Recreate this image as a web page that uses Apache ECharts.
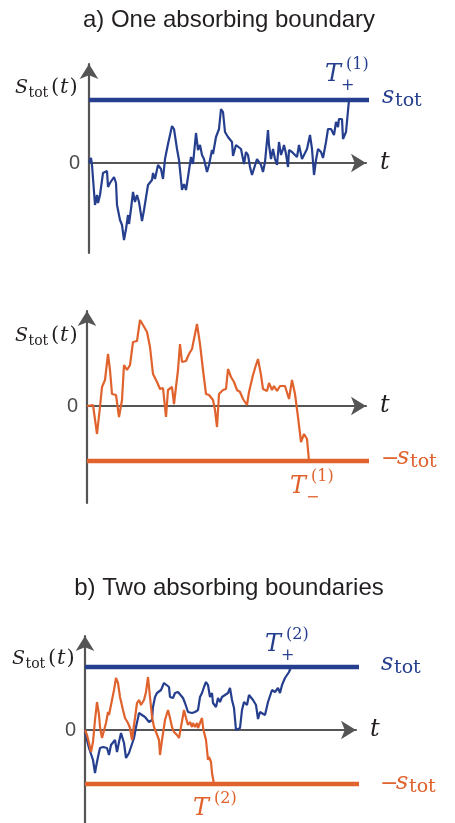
<!DOCTYPE html>
<html>
<head>
<meta charset="utf-8">
<title>absorbing boundaries</title>
<script src="https://cdn.jsdelivr.net/npm/echarts@6.0.0/dist/echarts.min.js"></script>
<style>
html,body{margin:0;padding:0;background:#fff;}
#main{width:455px;height:823px;}
</style>
</head>
<body>
<div id="main"></div>
<script>
// a) one absorbing boundary, upper one (t, S_tot)
var walkA = [[0,0],[0.2,0.5],[0.3,-0.2],[0.6,-4.2],[0.8,-3.2],[0.9,-4.0],[1.1,-3.2],[1.4,-1.0],[1.8,-0.8],[1.9,-2.4],[2.1,-2.0],[2.3,-2.2],[2.5,-1.4],[2.7,-2.0],[2.8,-4.2],[3.1,-5.7],[3.3,-6.2],[3.5,-7.7],[3.7,-6.6],[3.9,-5.2],[4.0,-6.1],[4.2,-4.6],[4.4,-2.9],[4.6,-3.9],[4.8,-3.2],[5.0,-3.9],[5.3,-5.8],[5.5,-4.7],[5.9,-2.2],[6.3,-1.7],[6.4,-1.0],[6.6,-1.6],[6.9,-0.2],[7.2,-0.6],[7.4,-1.6],[7.6,0.4],[7.9,1.9],[8.1,2.1],[8.3,3.7],[8.5,3.4],[8.8,1.4],[9.0,0.3],[9.3,-2.7],[9.5,-2.1],[9.7,-2.7],[9.9,-1.4],[10.2,0.6],[10.4,-0.1],[10.7,3.0],[10.9,1.3],[11.1,1.8],[11.3,0.8],[11.5,0.4],[11.8,-0.9],[12.0,-0.2],[12.3,1.3],[12.4,0.9],[12.7,2.6],[13.0,3.4],[13.2,5.4],[13.4,5.1],[13.6,3.1],[13.9,2.6],[14.1,2.8],[14.3,2.1],[14.4,0.7],[14.7,1.8],[14.9,1.6],[15.2,1.4],[15.3,1.6],[15.5,-0.1],[15.7,1.1],[15.9,0.8],[16.1,-0.4],[16.3,-1.2],[16.5,-1.1],[16.8,0.4],[17.0,0.1],[17.2,-0.2],[17.4,-0.9],[17.6,0.1],[17.9,3.3],[18.0,1.8],[18.2,0.4],[18.4,1.4],[18.6,0.4],[18.8,-0.2],[19.0,2.1],[19.2,0.8],[19.4,1.4],[19.5,1.8],[19.7,0.9],[19.9,-0.4],[20.0,1.3],[20.3,1.1],[20.5,1.3],[20.8,0.6],[21.0,1.8],[21.3,0.4],[21.5,0.6],[21.8,1.4],[22.1,2.8],[22.3,1.4],[22.5,-1.2],[22.7,0.3],[22.9,1.4],[23.2,1.1],[23.4,0.5],[23.7,2.1],[23.9,3.4],[24.2,3.4],[24.5,2.8],[24.7,4.1],[24.9,3.6],[25.0,4.4],[25.3,4.4],[25.4,2.4],[25.7,3.1],[25.9,3.1],[26.0,6.3]];
// a) lower one
var walkA2 = [[0,0],[0.6,0.1],[1.0,-2.8],[1.3,-0.1],[1.5,1.9],[1.8,2.6],[2.1,5.2],[2.3,3.6],[2.5,1.2],[2.9,1.1],[3.2,-1.1],[3.5,0.6],[3.7,4.1],[4.0,3.6],[4.3,4.1],[4.6,6.4],[5.0,6.5],[5.3,8.6],[5.6,8.1],[6.0,7.4],[6.3,5.9],[6.6,3.2],[7.0,2.4],[7.3,1.7],[7.6,1.8],[7.9,-1.1],[8.1,1.6],[8.5,1.9],[8.7,0.2],[9.1,3.6],[9.3,6.2],[9.5,4.4],[9.9,4.5],[10.2,5.2],[10.5,5.7],[10.7,5.9],[11.0,8.2],[11.3,6.2],[11.6,3.6],[11.9,1.2],[12.2,1.1],[12.6,0.6],[12.8,-0.4],[13.0,-2.1],[13.2,1.2],[13.6,1.6],[13.9,1.7],[14.1,3.7],[14.4,2.9],[14.7,2.4],[15.0,1.6],[15.3,1.4],[15.6,0.7],[16.0,0.1],[16.2,1.4],[16.6,3.1],[16.9,4.1],[17.1,4.7],[17.4,3.1],[17.6,1.7],[18.0,1.5],[18.2,2.3],[18.5,1.6],[18.7,2.0],[19.0,1.5],[19.3,2.0],[19.8,2.0],[20.0,2.0],[20.2,0.7],[20.5,2.6],[20.8,1.2],[21.1,-1.1],[21.4,-3.6],[21.7,-2.8],[22.0,-3.3],[22.2,-5.5]];
// b) two boundaries, blue one
var walkB1 = [[0,0],[0.2,-1.0],[0.4,-1.8],[0.6,-1.9],[0.8,-3.0],[1.0,-4.3],[1.1,-3.7],[1.3,-2.7],[1.5,-1.8],[1.8,-1.7],[2.0,-1.5],[2.2,-1.8],[2.4,-2.5],[2.6,-1.5],[2.8,-1.7],[3.0,-1.0],[3.2,-2.2],[3.4,-1.2],[3.6,-0.3],[3.9,-1.3],[4.1,-2.8],[4.4,-2.3],[4.6,-1.7],[4.9,-0.8],[5.1,0.3],[5.3,1.2],[5.4,1.7],[5.7,1.5],[6.0,1.3],[6.2,1.2],[6.4,0.8],[6.7,1.0],[6.8,2.3],[7.0,3.3],[7.2,3.7],[7.4,3.5],[7.6,4.0],[7.9,4.7],[8.1,4.9],[8.4,4.3],[8.5,3.3],[8.8,3.2],[9.0,3.7],[9.3,3.8],[9.5,3.7],[9.8,3.2],[10.0,2.7],[10.3,1.8],[10.7,1.7],[11.0,1.8],[11.3,2.0],[11.5,3.3],[11.7,3.7],[11.9,4.3],[12.1,4.8],[12.3,4.5],[12.5,3.3],[12.7,3.7],[12.8,2.7],[13.1,2.3],[13.3,3.2],[13.5,2.8],[13.7,3.3],[14.0,3.5],[14.3,3.7],[14.5,4.2],[14.7,3.0],[14.9,2.2],[15.1,0.0],[15.3,-0.1],[15.5,0.2],[15.7,2.0],[15.9,2.8],[16.2,2.5],[16.4,3.5],[16.6,3.3],[16.8,3.0],[17.1,2.5],[17.3,1.1],[17.5,1.8],[17.7,2.0],[18.0,1.5],[18.3,2.8],[18.5,2.7],[18.7,4.0],[19.0,3.8],[19.3,4.2],[19.5,3.7],[19.7,4.5],[20.0,5.2],[20.2,5.5],[20.4,5.8],[20.6,6.3]];
// b) orange one
var walkB2 = [[0,0],[0.2,-0.5],[0.4,-1.3],[0.6,-2.2],[0.8,-1.2],[1.0,1.0],[1.2,2.8],[1.4,1.5],[1.5,0.3],[1.7,-0.8],[1.9,-1.0],[2.1,0.7],[2.3,1.8],[2.4,1.5],[2.6,2.5],[2.9,4.0],[3.1,5.2],[3.3,4.7],[3.5,3.3],[3.8,2.0],[4.0,1.2],[4.3,0.7],[4.5,0.2],[4.7,-1.0],[4.9,0.5],[5.0,1.2],[5.2,2.7],[5.4,3.0],[5.6,2.5],[5.9,3.0],[6.1,3.8],[6.3,5.3],[6.5,3.3],[6.7,1.3],[6.9,0.3],[7.1,-0.2],[7.4,-1.0],[7.5,-2.5],[7.7,-1.0],[7.9,0.3],[8.0,1.0],[8.3,2.0],[8.5,1.2],[8.7,0.3],[8.9,-0.2],[9.2,-0.5],[9.4,-0.8],[9.6,0.3],[9.9,2.0],[10.1,1.2],[10.3,0.5],[10.5,0.8],[10.7,0.3],[10.8,0.7],[11.0,0.3],[11.2,0.7],[11.3,0.2],[11.5,0.7],[11.7,1.2],[11.8,0.3],[11.9,-0.2],[12.1,-1.0],[12.2,-2.0],[12.3,-3.0],[12.4,-2.7],[12.6,-3.2],[12.7,-4.3],[12.9,-5.4]];

// boundaries  +s_tot / -s_tot, and where they stop on the t axis
var sTopA = 6.3, sBotA2 = -5.5, sTopB = 6.3, sBotB = -5.4;
var bndEnd = [28.4, 28.5, 27.7];
var tMax = [27.7, 27.9, 27.1];
var yMin = [-9.0, -9.7, -9.3];
var yMax = [9.9, 9.5, 9.4];

var blue = '#253f8e', orange = '#e0622c', grey = '#555', ink = '#231f20';

var myChart = echarts.init(document.getElementById('main'));

// little math text pieces (base = baseline)
var labels = [];
function m(txt, x, base, size, color, italic) {
	labels.push({type:'text', x:x, y:base - 0.35*size, silent:true,
		style:{text:txt, fill:color, fontFamily:'DejaVu Serif', fontSize:size, fontStyle:italic?'italic':'normal',
			align:'left', verticalAlign:'middle'}});
}
function stotLabel(x, base) {
	m('S', x, base, 19, ink, true);
	m('tot', x+13.5, base+3, 14, ink);
	m('(', x+36, base, 21, ink);
	m('t', x+45, base, 21, ink, true);
	m(')', x+54.5, base, 21, ink);
}
function bndLabel(x, base, color, minus) {
	if (minus) { m('\u2212', x, base+1, 22, color); x += 16; }
	m('s', x, base, 24, color, true);
	m('tot', x+13, base+3, 19, color);
}
function tLabel(x, base, color, sub, sup) {
	m('T', x, base, 24, color, true);
	m(sup, x+21, base-13, 16, color);
	if (sub) m(sub, x+16, base+8, 16, color);
}
function title(txt, y) {
	labels.push({type:'text', x:229, y:y, silent:true,
		style:{text:txt, fill:ink, fontFamily:'Liberation Sans', fontSize:24, align:'center', verticalAlign:'middle'}});
}

title('a) One absorbing boundary', 20);
title('b) Two absorbing boundaries', 588);
stotLabel(15, 95);
stotLabel(15, 343);
stotLabel(12, 666);
bndLabel(382, 105, blue);
bndLabel(381, 466, orange, true);
bndLabel(381, 672, blue);
bndLabel(380, 791, orange, true);
tLabel(325, 83, blue, '+', '(1)');
tLabel(290, 495, orange, '\u2212', '(1)');
tLabel(265, 653, blue, '+', '(2)');
tLabel(193, 817, orange, null, '(2)');

var grids = [
	{left:89, top:64, width:277, height:189},
	{left:87, top:311, width:279, height:192},
	{left:85, top:636, width:271, height:187}
];

var xAxes = [], yAxes = [];
for (var i = 0; i < 3; i++) {
	xAxes.push({
		type:'value', gridIndex:i, min:0, max:tMax[i],
		axisLine:{onZero:true, symbol:['none','arrow'], symbolSize:[14,15], lineStyle:{color:grey, width:2.2}},
		axisTick:{show:false}, axisLabel:{show:false}, splitLine:{show:false},
		name:'t', nameLocation:'end', nameGap:14,
		nameTextStyle:{color:ink, fontFamily:'DejaVu Serif', fontStyle:'italic', fontSize:24}
	});
	yAxes.push({
		type:'value', gridIndex:i, min:yMin[i], max:yMax[i],
		axisLine:{onZero:true, symbol:['none','arrow'], symbolSize:[14,15], lineStyle:{color:grey, width:2.2}},
		axisTick:{show:false}, splitLine:{show:false},
		axisLabel:{customValues:[0], margin:9, color:'#4d4d4d', fontSize:20, fontFamily:'Liberation Sans'}
	});
}

function line(idx, data, color, w) {
	return {type:'line', xAxisIndex:idx, yAxisIndex:idx, data:data, showSymbol:false, symbol:'none',
		clip:false, silent:true, animation:false, lineStyle:{color:color, width:w}, itemStyle:{color:color}};
}

var option = {
	backgroundColor:'#fff',
	animation:false,
	grid:grids,
	xAxis:xAxes,
	yAxis:yAxes,
	series:[
		line(0, [[0,sTopA],[bndEnd[0],sTopA]], blue, 4.5),
		line(0, walkA, blue, 2.2),
		line(1, [[0,sBotA2],[bndEnd[1],sBotA2]], orange, 4.5),
		line(1, walkA2, orange, 2.2),
		line(2, [[0,sTopB],[bndEnd[2],sTopB]], blue, 4.5),
		line(2, [[0,sBotB],[bndEnd[2],sBotB]], orange, 4.5),
		line(2, walkB1, blue, 2.2),
		line(2, walkB2, orange, 2.2)
	],
	graphic:labels
};
myChart.setOption(option);
</script>
</body>
</html>
